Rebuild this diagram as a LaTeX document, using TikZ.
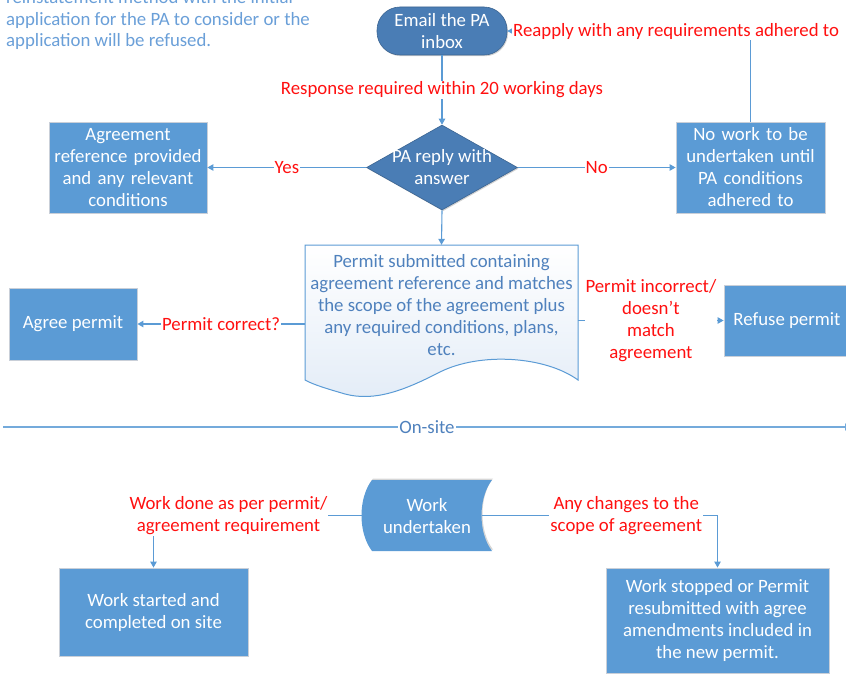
\documentclass[tikz,border=0pt]{standalone}
\usepackage{fontspec}
\setmainfont{Carlito}
\usetikzlibrary{arrows.meta,shapes.geometric,calc,shadows}
\definecolor{boxblue}{HTML}{5B9BD5}
\definecolor{darkblue}{HTML}{4A7DB5}
\definecolor{edgegray}{HTML}{C9CFD8}
\definecolor{labelred}{HTML}{FF1010}
\definecolor{docblue}{HTML}{4F81BD}
\definecolor{docfill}{HTML}{E3ECF7}
\definecolor{noteblue}{HTML}{6A9FD8}

\tikzset{
  txt/.style={font=\fontsize{18.8}{22}\selectfont},
  soft/.style={drop shadow={shadow xshift=1pt, shadow yshift=-1.2pt, opacity=0.18, fill=black}},
  proc/.style={txt, rectangle, fill=boxblue, draw=edgegray, line width=0.9pt,
    text=white, align=center, inner sep=2pt, soft},
  term/.style={txt, rectangle, rounded corners=23pt, fill=darkblue, draw=darkblue!80!black,
    line width=0.6pt, text=white, align=center, inner sep=1pt, soft},
  conn/.style={draw=boxblue, line width=1.1pt, -{Triangle[length=6pt,width=6.5pt]}},
  lab/.style={txt, fill=white, text=labelred, inner sep=1pt, align=center},
  siteline/.style={draw=boxblue!85, line width=1.7pt, -{Triangle[length=6pt,width=7pt]}},
}

\begin{document}
\begin{tikzpicture}[x=1pt,y=-1pt]
\useasboundingbox (0,0) rectangle (846,674);

% note at the top left (its first line runs off the page)
\node[txt, anchor=base west, align=left, text=noteblue, inner sep=0pt,
      font=\fontsize{18.8}{21.7}\selectfont] (note) at (6,47)
  {reinstatement method with the initial\\
   application for the PA to consider or the\\
   application will be refused.};

% start terminal
\node[term, minimum width=130pt, minimum height=48pt] (email) at (442,31)
  {Email the PA\\inbox};

% decision
\node[diamond, fill=darkblue, draw=darkblue!80!black, line width=0.6pt,
      minimum width=151pt, minimum height=85pt, inner sep=0pt, aspect=1.78, soft]
  (dia) at (442,167.5) {};
\node[txt, text=white, align=center] (diatext) at (dia) {PA reply with\\answer};

% outcome boxes of the decision
\node[proc, minimum width=158pt, minimum height=91pt, text width=154pt] (agreeref)
  at (128,167.5) {Agreement\\reference provided\\and any relevant\\conditions};
\node[proc, minimum width=149pt, minimum height=91pt, text width=145pt] (nowork)
  at (750.5,167.5) {No work to be\\undertaken until\\PA conditions\\adhered to};

% permit document
\node[minimum width=273pt, minimum height=135pt, inner sep=0pt] (doc) at (441.5,312.5) {};
\shade[top color=white, bottom color=docfill, draw=boxblue, line width=1pt]
  (305,245) -- (578,245) -- (578,380)
  .. controls (545,356) and (480,352) .. (440,372)
  .. controls (405,390) and (375,402) .. (345,394)
  .. controls (328,389) and (314,385) .. (305,380) -- cycle;
\node[txt, text=docblue, align=center] (doctext) at (441.5,305.5)
  {Permit submitted containing\\agreement reference and matches\\the scope of the agreement plus\\any required conditions, plans,\\etc.};

\node[proc, minimum width=128pt, minimum height=72pt] (agree) at (73,324) {Agree permit};
\node[proc, minimum width=126pt, minimum height=71pt] (refuse) at (787,320.5) {Refuse permit};

% on-site divider
\coordinate (s0) at (3,427);
\coordinate (s1) at (851,427);
\draw[siteline] (s0) -- node[txt, fill=white, text=docblue, inner sep=1pt] (onsite) {On-site} (s1);

% work undertaken (stored data shape)
\node[minimum width=130pt, minimum height=71pt, inner sep=0pt] (work) at (427,515.5) {};
\fill[black, opacity=0.16] ([shift={(1pt,1.5pt)}]372,480) -- ++(120,0)
  .. controls +(-14,18) and +(-14,-18) .. ++(0,71) -- ++(-120,0)
  .. controls +(-14,-18) and +(-14,18) .. ++(0,-71) -- cycle;
\fill[boxblue] (372,480) -- (492,480)
  .. controls (478,498) and (478,533) .. (492,551) -- (372,551)
  .. controls (358,533) and (358,498) .. (372,480) -- cycle;
\node[txt, text=white, align=center] (worktext) at (427,516) {Work\\undertaken};

\node[proc, minimum width=189pt, minimum height=88pt] (started) at (153.5,612)
  {Work started and\\completed on site};
\node[proc, minimum width=223pt, minimum height=105pt] (stopped) at (717.5,620.5)
  {Work stopped or Permit\\resubmitted with agree\\amendments included in\\the new permit.};

% connectors
\draw[conn] (email.south) -- node[lab] {Response required within 20 working days} (dia.north);
\draw[conn] (dia.west) -- node[lab] {Yes} (agreeref.east);
\draw[conn] (dia.east) -- node[lab] {No} (nowork.west);
\draw[conn] (nowork.north) |- node[lab, pos=0.653] {Reapply with any requirements adhered to} (email.east);
\draw[conn] (dia.south) -- (doc.north);
\draw[conn] (agree.east -| doc.west) -- node[lab] {Permit correct?} (agree.east);
\draw[conn] (refuse.west -| doc.east) -- node[lab] {Permit incorrect/\\doesn't\\match\\agreement} (refuse.west);
\draw[conn] (work.west) -| node[lab, pos=0.32] {Work done as per permit/\\agreement requirement} (started.north);
\draw[conn] ([xshift=-10pt]work.east) -| node[lab, pos=0.306] {Any changes to the\\scope of agreement} (stopped.north);
\end{tikzpicture}
\end{document}
